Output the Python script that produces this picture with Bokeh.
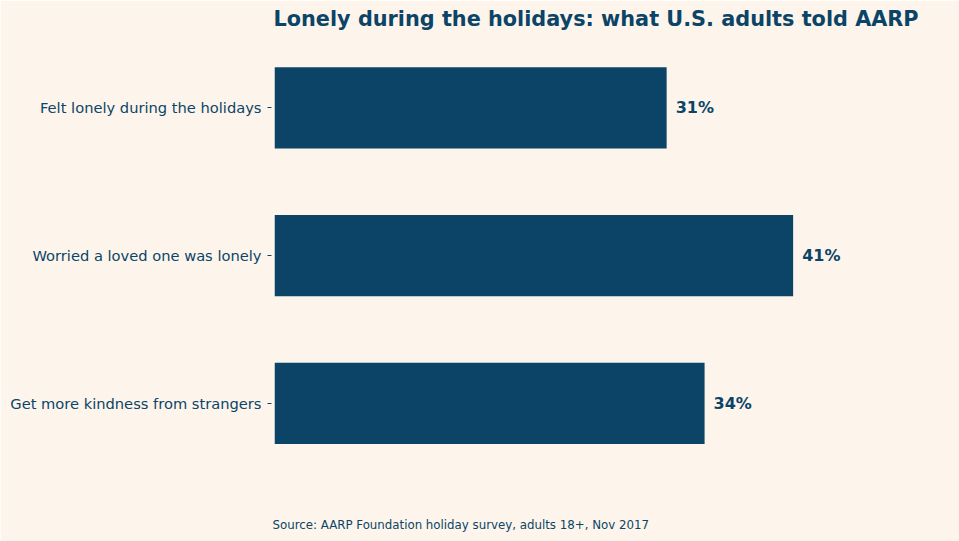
from bokeh.plotting import figure
from bokeh.models import Range1d, FixedTicker, ColumnDataSource, Title
from bokeh.core.properties import value
from bokeh.embed import file_html
from bokeh.resources import INLINE

categories = ["Felt lonely during the holidays", "Worried a loved one was lonely", "Get more kindness from strangers"]
percents = [31, 41, 34]
value_labels = ["31%", "41%", "34%"]
title_text = "Lonely during the holidays: what U.S. adults told AARP"
source_text = "Source: AARP Foundation holiday survey, adults 18+, Nov 2017"

BG = "#fdf5ec"
INK = "#0b4466"

positions = list(range(len(categories)))
src = ColumnDataSource(dict(y=positions, v=percents, lab=value_labels))

p = figure(width=959, height=541, output_backend="svg", toolbar_location=None,
           x_range=Range1d(0, 52.65), y_range=Range1d(2.699, -0.463),
           min_border_left=274, min_border_right=19, min_border_top=0, min_border_bottom=0)
p.background_fill_color = BG
p.border_fill_color = BG
p.outline_line_color = BG
p.outline_line_width = 2
p.grid.visible = False

p.title.text = title_text
p.title.text_font = "DejaVu Sans"
p.title.text_font_size = "20.8px"
p.title.text_font_style = "bold"
p.title.text_color = INK
p.title.align = "left"
p.title.vertical_align = "top"
p.title.offset = -1
p.title.standoff = 13

p.add_layout(Title(text=source_text, align="left", vertical_align="bottom", text_font="DejaVu Sans",
                   text_font_size="11.8px", text_font_style="normal", text_color=INK,
                   offset=-2, standoff=19), "below")

p.hbar(y="y", left=0, right="v", height=0.55, source=src, color=INK, line_color=None)
p.text(x="v", y="y", text="lab", source=src, x_offset=9, text_baseline="middle", text_align="left",
       text_font=value("DejaVu Sans"), text_font_style="bold", text_font_size="16px", text_color=INK)

p.xaxis.visible = False
ya = p.yaxis[0]
ya.ticker = FixedTicker(ticks=positions)
ya.major_label_overrides = {i: c for i, c in zip(positions, categories)}
ya.axis_line_color = None
ya.minor_tick_line_color = None
ya.major_tick_out = 7
ya.major_tick_in = -3
ya.major_tick_line_color = INK
ya.major_label_standoff = 6
ya.major_label_text_font = "DejaVu Sans"
ya.major_label_text_font_size = "14.67px"
ya.major_label_text_color = INK

open("out.html", "w").write(file_html(p, INLINE))
